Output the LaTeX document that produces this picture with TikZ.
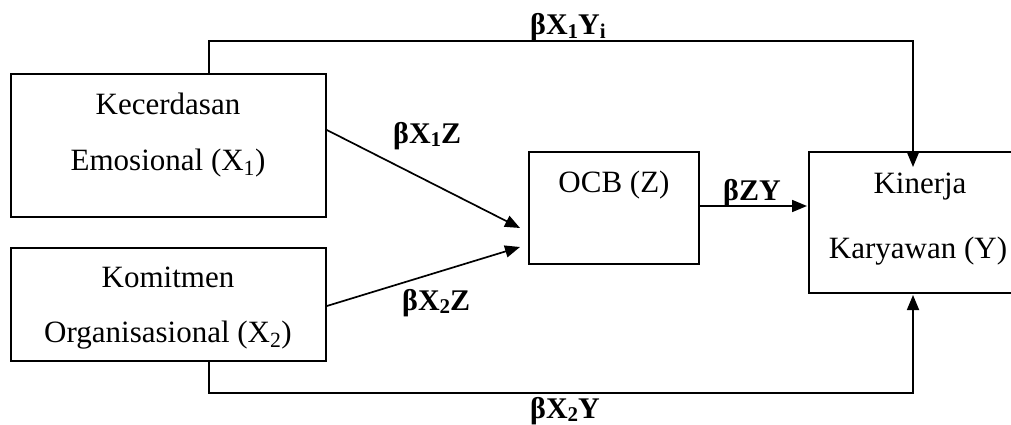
\documentclass[tikz,border=0pt]{standalone}
\usepackage{fontspec}
\setmainfont{Liberation Serif}
\usetikzlibrary{arrows.meta}
\newcommand{\bsub}[1]{\raisebox{-0.28ex}{\fontsize{21}{24}\selectfont\bfseries #1}}
\tikzset{
  box/.style={draw, line width=1.7pt, rectangle, inner sep=0pt},
  txt/.style={anchor=base, inner sep=0pt, font=\fontsize{31}{36}\selectfont},
  lbl/.style={anchor=base west, inner sep=0pt, font=\fontsize{30}{34}\selectfont\bfseries},
  arr/.style={line width=1.7pt, -{Triangle[length=15pt,width=12pt]}}
}
\begin{document}
\begin{tikzpicture}[x=1pt,y=-1pt]
\useasboundingbox (0,0) rectangle (1011,425);
% boxes
\node[box, minimum width=315pt, minimum height=143pt] (x1) at (168.5,145.5) {};
\node[box, minimum width=315pt, minimum height=113pt] (x2) at (168.5,304.5) {};
\node[box, minimum width=170pt, minimum height=112pt] (z) at (614,208) {};
\node[box, minimum width=215pt, minimum height=141pt] (y) at (916.5,222.5) {};
% box texts
\node[txt] (x1a) at (168,115) {Kecerdasan};
\node[txt] (x1b) at (168,170) {Emosional (X\textsubscript{1})};
\node[txt] (x2a) at (168,287) {Komitmen};
\node[txt] (x2b) at (168,342) {Organisasional (X\textsubscript{2})};
\node[txt] (za) at (614,192) {OCB (Z)};
\node[txt] (ya) at (920,193) {Kinerja};
\node[txt] (yb) at (918,258) {Karyawan (Y)};
% coordinates
\coordinate (t1) at (209,41);
\coordinate (t2) at (913,41);
\coordinate (ytop) at (913,167);
\coordinate (b1) at (209,393);
\coordinate (b2) at (913,393);
\coordinate (ybot) at (913,295);
\coordinate (p1) at (520,228);
\coordinate (p2) at (520,247);
\coordinate (zy) at (807,206);
% connectors
\draw[arr] (x1.north -| t1) -- (t1) -- (t2) -- (ytop);
\draw[arr] (x2.south -| b1) -- (b1) -- (b2) -- (ybot);
\draw[arr] (x1.east |- 0,130) -- (p1);
\draw[arr] (x2.east |- 0,306) -- (p2);
\draw[arr] (z.east |- zy) -- (zy);
% labels
\node[lbl] (l1) at (530,35) {βX\bsub{1}Y\bsub{i}};
\node[lbl] (l2) at (393,143) {βX\bsub{1}Z};
\node[lbl] (l3) at (402,310) {βX\bsub{2}Z};
\node[lbl] (l4) at (723,200) {βZY};
\node[lbl] (l5) at (530,418) {βX\bsub{2}Y};
\end{tikzpicture}
\end{document}
